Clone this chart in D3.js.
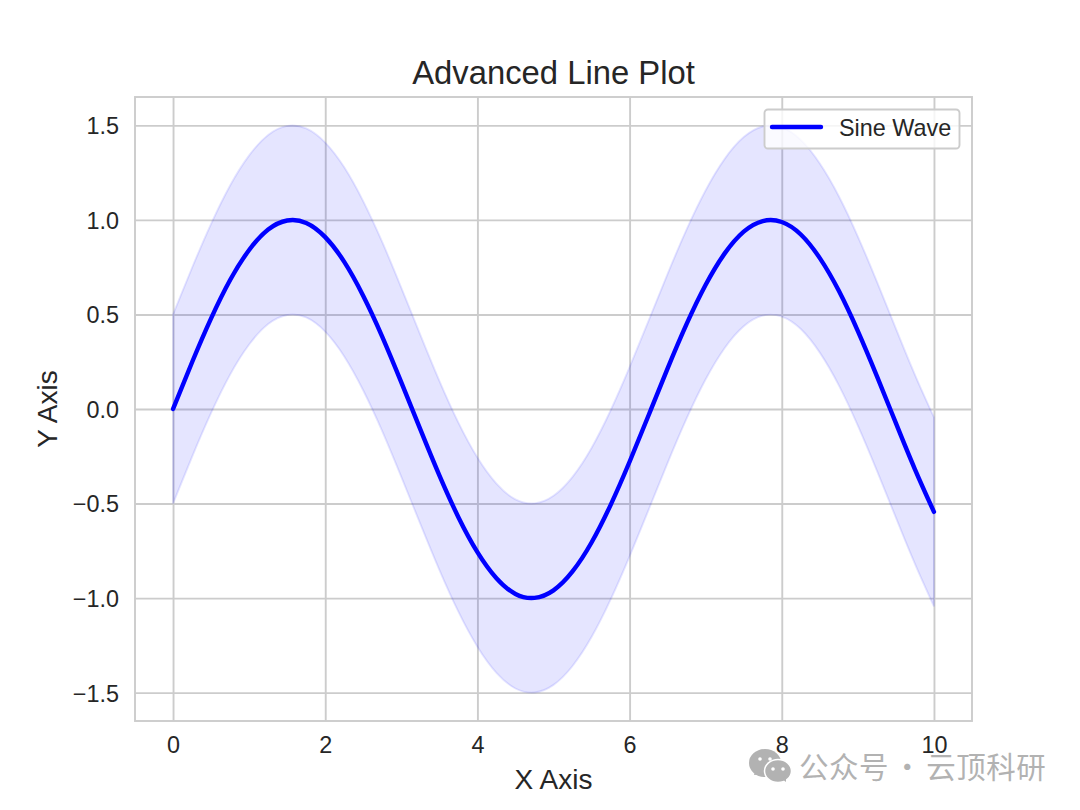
<!DOCTYPE html>
<html>
<head>
<meta charset="utf-8">
<script src="https://cdn.jsdelivr.net/npm/d3@7"></script>
<style>
  html, body { margin: 0; padding: 0; background: #fff; }
  svg { display: block; }
  text { font-family: "Liberation Sans", Arial, sans-serif; fill: #262626; }
</style>
</head>
<body>
<svg id="chart" width="1080" height="810"></svg>
<script>
// Sampled curve positions and values
const xValues = [0, 0.25, 0.5, 0.75, 1, 1.25, 1.5, 1.75, 2, 2.25, 2.5, 2.75, 3, 3.25, 3.5, 3.75, 4, 4.25, 4.5, 4.75, 5, 5.25, 5.5, 5.75, 6, 6.25, 6.5, 6.75, 7, 7.25, 7.5, 7.75, 8, 8.25, 8.5, 8.75, 9, 9.25, 9.5, 9.75, 10];
const lineValues = [0, 0.247, 0.479, 0.682, 0.841, 0.949, 0.997, 0.984, 0.909, 0.778, 0.598, 0.382, 0.141, -0.108, -0.351, -0.572, -0.757, -0.895, -0.978, -0.999, -0.959, -0.859, -0.706, -0.508, -0.279, -0.033, 0.215, 0.45, 0.657, 0.823, 0.938, 0.994, 0.989, 0.923, 0.798, 0.625, 0.412, 0.174, -0.075, -0.319, -0.544];
const upperValues = [0.5, 0.747, 0.979, 1.182, 1.341, 1.449, 1.497, 1.484, 1.409, 1.278, 1.098, 0.882, 0.641, 0.392, 0.149, -0.072, -0.257, -0.395, -0.478, -0.499, -0.459, -0.359, -0.206, -0.008, 0.221, 0.467, 0.715, 0.95, 1.157, 1.323, 1.438, 1.494, 1.489, 1.423, 1.298, 1.125, 0.912, 0.674, 0.425, 0.181, -0.044];
const lowerValues = [-0.5, -0.253, -0.021, 0.182, 0.341, 0.449, 0.497, 0.484, 0.409, 0.278, 0.098, -0.118, -0.359, -0.608, -0.851, -1.072, -1.257, -1.395, -1.478, -1.499, -1.459, -1.359, -1.206, -1.008, -0.779, -0.533, -0.285, -0.05, 0.157, 0.323, 0.438, 0.494, 0.489, 0.423, 0.298, 0.125, -0.088, -0.326, -0.575, -0.819, -1.044];

const xTicks = [0, 2, 4, 6, 8, 10];
const yTicks = [-1.5, -1, -0.5, 0, 0.5, 1, 1.5];
const xDomain = [-0.5, 10.5];
const yDomain = [-1.65, 1.65];

const titleText = "Advanced Line Plot";
const xLabel = "X Axis";
const yLabel = "Y Axis";
const seriesName = "Sine Wave";
const footerText = "公众号 · 云顶科研";

const gridColor = "#cccccc";
const seriesColor = "#0000ff";

const svg = d3.select("#chart");
const box = { left: 135, right: 972, top: 97, bottom: 721 };

const x = d3.scaleLinear().domain(xDomain).range([box.left, box.right]);
const y = d3.scaleLinear().domain(yDomain).range([box.bottom, box.top]);

// Axes double as the grid: ticks run across the whole plot area
const minus = d => d3.format(".1f")(d).replace("-", "\u2212");

const xAxis = svg.append("g")
  .attr("transform", `translate(0,${box.bottom})`)
  .call(d3.axisBottom(x).tickValues(xTicks).tickFormat(d3.format("d"))
    .tickSize(-(box.bottom - box.top)).tickPadding(15));

const yAxis = svg.append("g")
  .attr("transform", `translate(${box.left},0)`)
  .call(d3.axisLeft(y).tickValues(yTicks).tickFormat(minus)
    .tickSize(-(box.right - box.left)).tickPadding(16));

[xAxis, yAxis].forEach(g => {
  g.select(".domain").remove();
  g.selectAll(".tick line").attr("stroke", gridColor).attr("stroke-width", 1.9);
  g.selectAll(".tick text").attr("font-size", 23.4).attr("fill", "#262626");
});
yAxis.selectAll(".tick text").attr("dy", "0.36em");

// Shaded band between the upper and lower limits
const bandPoints = xValues.map((v, i) => ({ x: v, lo: lowerValues[i], hi: upperValues[i] }));
const upperLine = d3.line().x(d => x(d.x)).y(d => y(d.hi)).curve(d3.curveNatural);
const lowerLine = d3.line().x(d => x(d.x)).y(d => y(d.lo)).curve(d3.curveNatural);
const bandPath = upperLine(bandPoints) + "L" + lowerLine(bandPoints.slice().reverse()).slice(1) + "Z";
svg.append("path")
  .attr("d", bandPath)
  .attr("fill", seriesColor).attr("fill-opacity", 0.1)
  .attr("stroke", seriesColor).attr("stroke-opacity", 0.1).attr("stroke-width", 1.9);

// Main curve
const line = d3.line()
  .x(d => x(d.x)).y(d => y(d.v))
  .curve(d3.curveNatural);
svg.append("path")
  .datum(xValues.map((v, i) => ({ x: v, v: lineValues[i] })))
  .attr("d", line)
  .attr("fill", "none")
  .attr("stroke", seriesColor).attr("stroke-width", 4.4)
  .attr("stroke-linecap", "round").attr("stroke-linejoin", "round");

// Plot frame
svg.append("rect")
  .attr("x", box.left).attr("y", box.top)
  .attr("width", box.right - box.left).attr("height", box.bottom - box.top)
  .attr("fill", "none").attr("stroke", gridColor).attr("stroke-width", 1.9);

// Title and axis labels
svg.append("text").attr("x", 553.5).attr("y", 84)
  .attr("text-anchor", "middle").attr("font-size", 32.8).text(titleText);
svg.append("text").attr("x", 553.5).attr("y", 789)
  .attr("text-anchor", "middle").attr("font-size", 28).text(xLabel);
svg.append("text").attr("transform", "translate(57,409) rotate(-90)")
  .attr("text-anchor", "middle").attr("font-size", 28).text(yLabel);

// Legend
const legend = svg.append("g");
legend.append("rect")
  .attr("x", 764.5).attr("y", 109.5).attr("width", 195).attr("height", 39).attr("rx", 3.5)
  .attr("fill", "#fff").attr("fill-opacity", 0.8)
  .attr("stroke", gridColor).attr("stroke-width", 1.9);
legend.append("line")
  .attr("x1", 772).attr("x2", 821).attr("y1", 127).attr("y2", 127)
  .attr("stroke", seriesColor).attr("stroke-width", 4.4).attr("stroke-linecap", "round");
legend.append("text").attr("x", 839).attr("y", 135.5)
  .attr("font-size", 23.4).text(seriesName);

// Footer mark: chat-bubble icon and account name
const mark = svg.append("g").attr("fill", "#b2b2b2");
mark.append("ellipse").attr("cx", 765).attr("cy", 763).attr("rx", 16).attr("ry", 14);
mark.append("path").attr("d", "M755 772 L754 775 L765 774 Z");
mark.append("ellipse").attr("cx", 778).attr("cy", 771).attr("rx", 13.5).attr("ry", 11.5)
  .attr("stroke", "#fff").attr("stroke-width", 1.5);
mark.append("path").attr("d", "M782 779 L786 782 L786 776 Z");
[[760, 759], [770, 759], [773, 769], [783, 769]].forEach(([cx, cy]) => {
  mark.append("circle").attr("cx", cx).attr("cy", cy).attr("r", 1.8).attr("fill", "#fff");
});
mark.append("text").attr("x", 799).attr("y", 778)
  .attr("font-size", 29.5).attr("letter-spacing", 0.5).attr("word-spacing", -3.5)
  .style("font-family", '"Noto Sans CJK SC", sans-serif')
  .style("fill", "#b2b2b2")
  .text(footerText);
</script>
</body>
</html>
